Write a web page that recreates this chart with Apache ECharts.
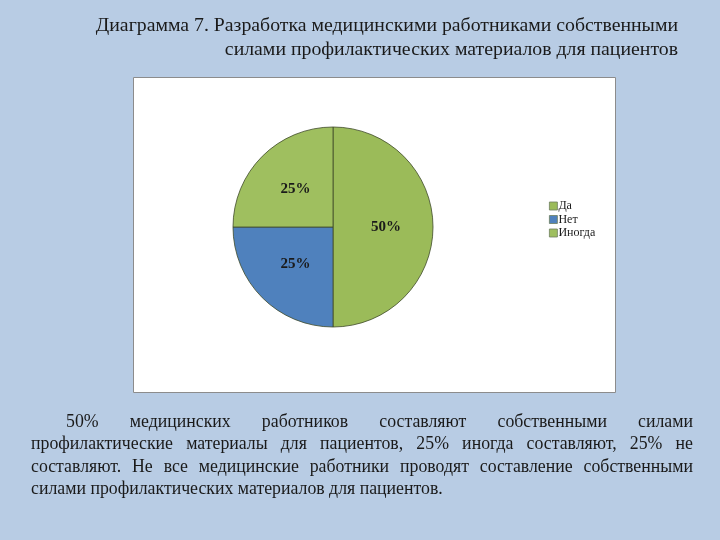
<!DOCTYPE html>
<html><head><meta charset="utf-8">
<script src="https://cdn.jsdelivr.net/npm/echarts@6/dist/echarts.min.js"></script>
<style>html,body{margin:0;padding:0;background:#b8cce4;}#c{width:720px;height:540px;}</style>
</head><body><div id="c"></div>
<script>
const categories = ['Да', 'Нет', 'Иногда'];
const values = [50, 25, 25];
const colors = ['#9bbb59', '#4f81bd', '#9fbf5f'];
const titleLines = ['Диаграмма 7. Разработка медицинскими работниками собственными', 'силами профилактических материалов для пациентов'];
const bodyLines = [
  '50% медицинских работников составляют собственными силами',
  'профилактические материалы для пациентов, 25% иногда составляют, 25% не',
  'составляют. Не все медицинские работники проводят составление собственными',
  'силами профилактических материалов для пациентов.'
];

const FONT = '"Liberation Serif", "Times New Roman", serif';
const BODY_FS = 17.8;
const chart = echarts.init(document.getElementById('c'));
const mctx = document.createElement('canvas').getContext('2d');
mctx.font = BODY_FS + 'px ' + FONT;

const graphics = [];
graphics.push({type:'rect', shape:{x:133.5, y:77.5, width:482, height:315}, style:{fill:'#fff', stroke:'#8c8c8c', lineWidth:1}, z:-10});
titleLines.forEach((t,i)=>{
  graphics.push({type:'text', right:42, top:16+i*24, style:{text:t, font:'19.8px ' + FONT, fill:'#1a1a1a'}});
});
// justified paragraph
const lineY = [413, 435.5, 458, 480.5];
bodyLines.forEach((line, i) => {
  const words = line.split(' ');
  const x0 = i === 0 ? 66 : 31, x1 = 693;
  const last = i === bodyLines.length - 1;
  const widths = words.map(w => mctx.measureText(w).width);
  const total = widths.reduce((a,b)=>a+b,0);
  const gap = last ? mctx.measureText(' ').width : (x1 - x0 - total) / (words.length - 1);
  let x = x0;
  words.forEach((w, k) => {
    graphics.push({type:'text', x:x, y:lineY[i], style:{text:w, font:BODY_FS + 'px ' + FONT, fill:'#1a1a1a'}});
    x += widths[k] + gap;
  });
});

chart.setOption({
  animation:false,
  color: colors,
  graphic: graphics,
  legend: {
    orient:'vertical', left:544, top:195, itemWidth:8, itemHeight:8, itemGap:1.5,
    icon:'rect',
    itemStyle:{borderColor:'#6f7f60', borderWidth:0.8},
    textStyle:{fontFamily:FONT, fontSize:12, color:'#1a1a1a', padding:[0,0,0,-4]},
    data: categories
  },
  series:[{
    type:'pie', center:[333,227], radius:100, startAngle:90, clockwise:true,
    itemStyle:{borderColor:'#3f4a2a', borderWidth:0.8},
    label:{show:true, position:'inside', formatter:'{d}%', fontFamily:FONT, fontWeight:'bold', fontSize:15, color:'#1a1a1a'},
    labelLine:{show:false},
    emphasis:{disabled:true},
    data: categories.map((c,i)=>({name:c, value:values[i]}))
  }]
});
</script></body></html>
